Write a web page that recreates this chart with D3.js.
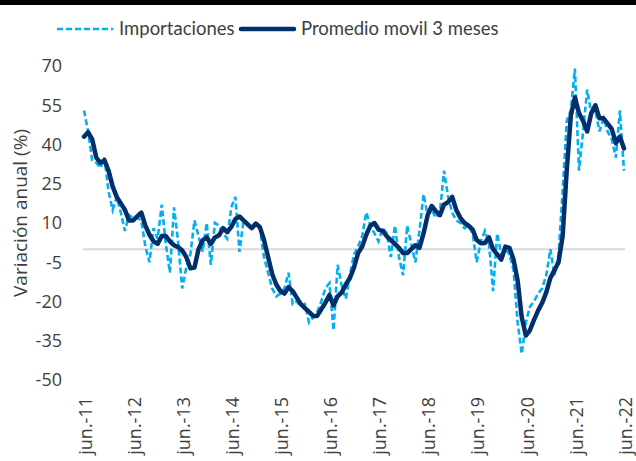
<!DOCTYPE html>
<html>
<head>
<meta charset="utf-8">
<script src="https://cdn.jsdelivr.net/npm/d3@7"></script>
<style>
  html, body { margin: 0; padding: 0; background: #fff; }
  svg { display: block; font-family: "Open Sans", sans-serif; }
</style>
</head>
<body>
<svg id="chart" width="636" height="461"></svg>
<script>
'use strict';

// monthly, jun-2011 .. jun-2022
var tickLabels = ["jun.-11", "jun.-12", "jun.-13", "jun.-14", "jun.-15", "jun.-16",
                  "jun.-17", "jun.-18", "jun.-19", "jun.-20", "jun.-21", "jun.-22"];
var yTicks = [70, 55, 40, 25, 10, -5, -20, -35, -50];

var importaciones = [
    53, 45, 34, 33, 31, 35, 22, 15, 20, 14, 7, 13,
    12, 12, 11, 1, -5, 8, 4, 17, 2, -9, 16, 3,
    -15, -7, -2, 11, 5, -1, 10, -6, 10, 9, 6, 4,
    16, 20, -1, 11, 10, 8, 9, 8, -3, -9, -15, -18,
    -17, -15, -9, -21, -20, -22, -21, -28, -26, -24, -20, -15,
    -13, -31, -6, -14, -19, -10, -2, 1, 5, 14, 9, 6,
    3, 8, 6, -3, 9, -3, -10, 9, 2, -5, 7, 21,
    13, 15, 12, 14, 30, 20, 14, 11, 10, 8, 9, 6,
    -5, 3, 7, 2, -16, 6, -2, 0, -2, -8, -28, -40,
    -28, -22, -20, -17, -15, -10, 0, -10, -2, 22, 49, 53,
    69, 30, 45, 61, 52, 53, 45, 50, 45, 42, 35, 53,
    30
];

var promedioMovil = [
    43, 44.7, 42, 35, 33, 34, 30, 24, 20, 17.5, 15, 11,
    11, 12.5, 14, 9, 5.5, 3, 2, 5, 5, 3, 1.5, 0.8,
    -0.5, -3, -7.3, -7, 0, 3.4, 4.5, 2, 4.5, 5.3, 8, 6.5,
    8.5, 11.5, 12.5, 11, 9.5, 8, 9.8, 8.4, 3.5, -3, -9.5, -13.5,
    -16, -17, -14.5, -16, -18.5, -21, -22.5, -24, -25.5, -25.5, -23, -20.5,
    -17.5, -21.5, -18, -16.5, -13.5, -11, -7, -1.5, 1, 5.5, 9, 10,
    7.5, 7, 5, 3.5, 2, 0.5, -1.5, -1.5, 0, 1.5, 0.5, 6,
    13, 16.5, 14.5, 13, 17, 18, 20, 15, 12, 10, 9, 7.5,
    3.5, 2.3, 2.4, 4.5, 0, -2, -4, 1, 0.5, -4, -12, -26,
    -33, -31, -27, -23.5, -20.5, -16.5, -11, -8, -5, 5, 30, 51,
    58, 52, 49, 45, 52, 55, 50, 50, 48, 46, 40.5, 43,
    38.5
];

var W = 636, H = 461;
var svg = d3.select("#chart");

var x = d3.scaleLinear().domain([0, importaciones.length - 1]).range([84, 624]);
var y = d3.scaleLinear().domain([-50, 70]).range([380, 66]);

// top rule
svg.append("rect").attr("x", 0).attr("y", 0).attr("width", W).attr("height", 5).attr("fill", "#000");

// zero line
svg.append("line")
    .attr("x1", 83).attr("x2", 625)
    .attr("y1", y(0)).attr("y2", y(0))
    .attr("stroke", "#d9d9d9").attr("stroke-width", 2);

// y axis (labels only)
var yAxis = d3.axisLeft(y).tickValues(yTicks).tickSize(0).tickPadding(0)
    .tickFormat(function(d){ return d; });
var gy = svg.append("g").attr("transform", "translate(62,0)").call(yAxis);
gy.select(".domain").remove();
gy.selectAll("text")
    .attr("font-family", "Open Sans, sans-serif")
    .attr("font-size", 18)
    .attr("fill", "#404040");

// x axis (labels only), one label every 12 months
var xAxis = d3.axisBottom(x)
    .tickValues(tickLabels.map(function(l, i){ return i * 12; }))
    .tickSize(0)
    .tickFormat(function(d){ return tickLabels[d / 12]; });
var gx = svg.append("g").attr("transform", "translate(0,397)").call(xAxis);
gx.select(".domain").remove();
gx.selectAll("text")
    .attr("font-family", "Open Sans, sans-serif")
    .attr("font-size", 18)
    .attr("fill", "#404040")
    .attr("transform", "rotate(-90)")
    .attr("text-anchor", "end")
    .attr("x", 0).attr("y", 0)
    .attr("dy", "0.4em");

// y title
svg.append("text")
    .attr("transform", "translate(20,213) rotate(-90)")
    .attr("text-anchor", "middle")
    .attr("dy", "0.35em")
    .attr("font-size", 19)
    .attr("fill", "#404040")
    .text("Variación anual (%)");

var line = d3.line()
    .x(function(d, i){ return x(i); })
    .y(function(d){ return y(d); });

svg.append("path")
    .datum(importaciones)
    .attr("d", line)
    .attr("fill", "none")
    .attr("stroke", "#00b0f0")
    .attr("stroke-width", 2.6)
    .attr("stroke-dasharray", "6,3");

svg.append("path")
    .datum(promedioMovil)
    .attr("d", line)
    .attr("fill", "none")
    .attr("stroke", "#002f6c")
    .attr("stroke-width", 4.5)
    .attr("stroke-linejoin", "round")
    .attr("stroke-linecap", "round");

// legend
var lg = svg.append("g").attr("font-family", "Lato, sans-serif").attr("font-size", 18.5).attr("fill", "#404040");
lg.append("line").attr("x1", 57).attr("x2", 113).attr("y1", 29).attr("y2", 29)
    .attr("stroke", "#00b0f0").attr("stroke-width", 2.6).attr("stroke-dasharray", "6,3");
lg.append("text").attr("x", 119).attr("y", 29).attr("dy", "0.35em").text("Importaciones");
lg.append("line").attr("x1", 241).attr("x2", 294).attr("y1", 29).attr("y2", 29)
    .attr("stroke", "#002f6c").attr("stroke-width", 4.5).attr("stroke-linecap", "round");
lg.append("text").attr("x", 301).attr("y", 29).attr("dy", "0.35em").text("Promedio movil 3 meses");
</script>
</body>
</html>
